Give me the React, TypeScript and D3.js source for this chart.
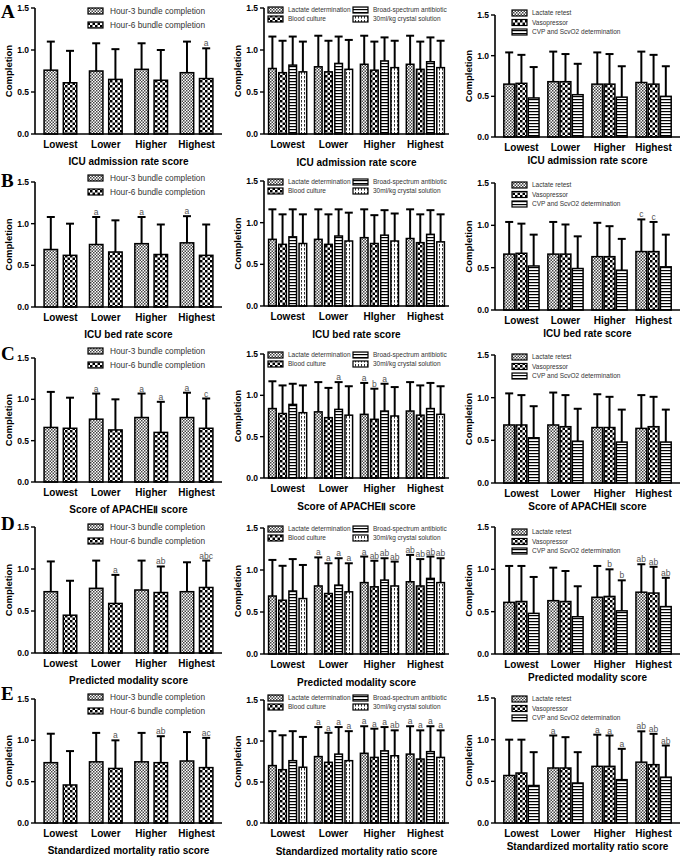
import React from "react";
import * as d3 from "d3";

const categories = ["Lowest", "Lower", "Higher", "Highest"];
const bedRateMidCategories = ["Lowest", "Lower", "HIgher", "Highest"];
const yTicks = [0, 0.5, 1.0, 1.5];
const bundleSeries = ["Hour-3 bundle completion", "Hour-6 bundle completion"];
const hour3Series = ["Lactate determination", "Blood culture", "Broad-spectrum antibiotic", "30ml/kg crystal solution"];
const hour6Series = ["Lactate retest", "Vasopressor", "CVP and ScvO2  determination"];
const rowLetters = ["A", "B", "C", "D", "E"];
const rowTitles = [
  "ICU admission rate score",
  "ICU bed rate score",
  "Score of APACHE\u2161  score",
  "Predicted modality score",
  "Standardized mortality ratio score",
];

// mean and mean+SD (top of error bar), one inner array per series
const admBundleMean = [[0.76, 0.75, 0.77, 0.73], [0.61, 0.65, 0.64, 0.66]];
const admBundleUpper = [[1.1, 1.08, 1.08, 1.1], [0.99, 1.01, 1.0, 1.02]];
const admBundleSig = [["", "", "", ""], ["", "", "", "a"]];
const admH3Mean = [[0.78, 0.8, 0.83, 0.83], [0.73, 0.74, 0.76, 0.77], [0.82, 0.84, 0.87, 0.86], [0.74, 0.77, 0.79, 0.79]];
const admH3Upper = [[1.16, 1.17, 1.17, 1.17], [1.11, 1.11, 1.1, 1.1], [1.16, 1.16, 1.15, 1.15], [1.1, 1.12, 1.11, 1.11]];
const admH6Mean = [[0.65, 0.68, 0.65, 0.67], [0.66, 0.68, 0.65, 0.65], [0.48, 0.52, 0.49, 0.5]];
const admH6Upper = [[1.04, 1.05, 1.04, 1.05], [1.01, 1.02, 1.02, 1.01], [0.86, 0.9, 0.87, 0.87]];

const bedBundleMean = [[0.69, 0.75, 0.76, 0.77], [0.62, 0.66, 0.63, 0.62]];
const bedBundleUpper = [[1.08, 1.08, 1.08, 1.09], [1.0, 1.04, 0.99, 0.99]];
const bedBundleSig = [["", "a", "a", "a"], ["", "", "", ""]];
const bedH3Mean = [[0.8, 0.8, 0.82, 0.81], [0.74, 0.74, 0.75, 0.76], [0.83, 0.84, 0.85, 0.86], [0.75, 0.78, 0.78, 0.77]];
const bedH3Upper = [[1.16, 1.16, 1.16, 1.16], [1.1, 1.1, 1.09, 1.1], [1.16, 1.16, 1.15, 1.15], [1.1, 1.12, 1.11, 1.1]];
const bedH6Mean = [[0.66, 0.66, 0.63, 0.69], [0.67, 0.66, 0.63, 0.69], [0.52, 0.49, 0.47, 0.51]];
const bedH6Upper = [[1.04, 1.04, 1.03, 1.07], [1.02, 1.01, 0.99, 1.04], [0.89, 0.87, 0.84, 0.89]];
const bedH6Sig = [["", "", "", "c"], ["", "", "", "c"], ["", "", "", ""]];

const apacheBundleMean = [[0.66, 0.76, 0.78, 0.78], [0.65, 0.63, 0.6, 0.65]];
const apacheBundleUpper = [[1.09, 1.07, 1.07, 1.08], [1.02, 1.0, 0.97, 1.01]];
const apacheBundleSig = [["", "a", "a", "a"], ["", "", "a", "c"]];
const apacheH3Mean = [[0.84, 0.8, 0.77, 0.81], [0.78, 0.73, 0.71, 0.76], [0.89, 0.83, 0.81, 0.84], [0.79, 0.76, 0.75, 0.77]];
const apacheH3Upper = [[1.17, 1.16, 1.15, 1.16], [1.12, 1.09, 1.08, 1.12], [1.14, 1.16, 1.14, 1.15], [1.12, 1.11, 1.1, 1.11]];
const apacheH3Sig = [["", "", "a", ""], ["", "", "b", ""], ["", "a", "a", ""], ["", "", "", ""]];
const apacheH6Mean = [[0.68, 0.68, 0.65, 0.64], [0.68, 0.66, 0.65, 0.66], [0.53, 0.49, 0.48, 0.48]];
const apacheH6Upper = [[1.05, 1.06, 1.04, 1.03], [1.03, 1.03, 1.01, 1.01], [0.9, 0.87, 0.86, 0.86]];

const predBundleMean = [[0.73, 0.77, 0.75, 0.73], [0.45, 0.59, 0.72, 0.78]];
const predBundleUpper = [[1.09, 1.1, 1.1, 1.08], [0.86, 0.93, 1.03, 1.1]];
const predBundleSig = [["", "", "", ""], ["", "a", "ab", "abc"]];
const predH3Mean = [[0.69, 0.81, 0.85, 0.86], [0.64, 0.72, 0.8, 0.81], [0.75, 0.82, 0.88, 0.9], [0.66, 0.74, 0.81, 0.85]];
const predH3Upper = [[1.12, 1.15, 1.16, 1.18], [1.05, 1.08, 1.11, 1.13], [1.13, 1.14, 1.14, 1.16], [1.06, 1.08, 1.1, 1.14]];
const predH3Sig = [["", "a", "a", "ab"], ["", "a", "ab", "ab"], ["", "a", "ab", "ab"], ["", "a", "ab", "ab"]];
const predH6Mean = [[0.61, 0.63, 0.67, 0.73], [0.62, 0.62, 0.68, 0.72], [0.48, 0.44, 0.51, 0.56]];
const predH6Upper = [[1.04, 1.02, 1.04, 1.06], [1.04, 0.98, 1.0, 1.03], [0.91, 0.8, 0.87, 0.9]];
const predH6Sig = [["", "", "", "ab"], ["", "", "b", "ab"], ["", "", "b", "ab"]];

const smrBundleMean = [[0.73, 0.74, 0.74, 0.75], [0.46, 0.66, 0.73, 0.67]];
const smrBundleUpper = [[1.08, 1.09, 1.09, 1.1], [0.87, 1.0, 1.05, 1.03]];
const smrBundleSig = [["", "", "", ""], ["", "a", "ab", "ac"]];
const smrH3Mean = [[0.7, 0.81, 0.85, 0.84], [0.65, 0.74, 0.8, 0.78], [0.76, 0.84, 0.88, 0.87], [0.68, 0.76, 0.82, 0.8]];
const smrH3Upper = [[1.12, 1.17, 1.18, 1.18], [1.07, 1.1, 1.15, 1.13], [1.12, 1.17, 1.17, 1.18], [1.05, 1.12, 1.13, 1.13]];
const smrH3Sig = [["", "a", "a", "a"], ["", "a", "a", "a"], ["", "a", "a", "a"], ["", "a", "ab", "a"]];
const smrH6Mean = [[0.57, 0.66, 0.68, 0.73], [0.6, 0.66, 0.68, 0.7], [0.45, 0.48, 0.52, 0.55]];
const smrH6Upper = [[1.0, 1.05, 1.06, 1.1], [1.0, 1.03, 1.05, 1.07], [0.85, 0.85, 0.89, 0.93]];
const smrH6Sig = [["", "a", "a", "ab"], ["", "", "a", "ab"], ["", "", "a", "ab"]];

const panels = [
  { row: 0, col: 0, cats: categories, series: bundleSeries, mean: admBundleMean, upper: admBundleUpper, sig: admBundleSig },
  { row: 0, col: 1, cats: categories, series: hour3Series, mean: admH3Mean, upper: admH3Upper },
  { row: 0, col: 2, cats: categories, series: hour6Series, mean: admH6Mean, upper: admH6Upper },
  { row: 1, col: 0, cats: categories, series: bundleSeries, mean: bedBundleMean, upper: bedBundleUpper, sig: bedBundleSig },
  { row: 1, col: 1, cats: bedRateMidCategories, series: hour3Series, mean: bedH3Mean, upper: bedH3Upper },
  { row: 1, col: 2, cats: categories, series: hour6Series, mean: bedH6Mean, upper: bedH6Upper, sig: bedH6Sig },
  { row: 2, col: 0, cats: categories, series: bundleSeries, mean: apacheBundleMean, upper: apacheBundleUpper, sig: apacheBundleSig },
  { row: 2, col: 1, cats: categories, series: hour3Series, mean: apacheH3Mean, upper: apacheH3Upper, sig: apacheH3Sig },
  { row: 2, col: 2, cats: categories, series: hour6Series, mean: apacheH6Mean, upper: apacheH6Upper },
  { row: 3, col: 0, cats: categories, series: bundleSeries, mean: predBundleMean, upper: predBundleUpper, sig: predBundleSig },
  { row: 3, col: 1, cats: categories, series: hour3Series, mean: predH3Mean, upper: predH3Upper, sig: predH3Sig },
  { row: 3, col: 2, cats: categories, series: hour6Series, mean: predH6Mean, upper: predH6Upper, sig: predH6Sig },
  { row: 4, col: 0, cats: categories, series: bundleSeries, mean: smrBundleMean, upper: smrBundleUpper, sig: smrBundleSig },
  { row: 4, col: 1, cats: categories, series: hour3Series, mean: smrH3Mean, upper: smrH3Upper, sig: smrH3Sig },
  { row: 4, col: 2, cats: categories, series: hour6Series, mean: smrH6Mean, upper: smrH6Upper, sig: smrH6Sig },
];

// layout
const W = 685;
const H = 858;
const colX = [[35, 222], [264, 449], [495, 680]];
const rowY = [
  [[8, 134], [8, 134], [15, 137]],
  [[182, 307], [181, 306], [183, 310]],
  [[358, 482], [354, 478], [355, 483]],
  [[527, 653], [528, 654], [527, 654]],
  [[699, 823], [700, 823], [698, 823]],
];
const letterY = [18, 187, 360, 530, 700];
const colCfg = [
  { pi: 0.28, po: 0.2, spi: 0.3, titleDy: 31, legendY: [11, 178, 351, 527, 697] },
  { pi: 0.17, po: 0.1, spi: 0.25, titleDy: 32, legendY: [10, 182, 355, 529, 698] },
  { pi: 0.2, po: 0.2, spi: 0.12, titleDy: 27, legendY: [13, 185, 357, 532, 699] },
];
const patterns = ["p-fine", "p-check", "p-hstripe", "p-vstripe"];
const FONT = "Arial, 'Liberation Sans', sans-serif";

function Legend({ p, cfg }) {
  const ly = cfg.legendY[p.row];
  return (
    <g fontFamily={FONT} fill="#333">
      {p.series.map((s, i) => {
        let sx, sy, fs;
        if (p.col === 0) {
          sx = 88; sy = ly + i * 14; fs = 8.3;
        } else if (p.col === 1) {
          sx = [268, 353][Math.floor(i / 2)]; sy = ly + (i % 2) * 9; fs = 6.5;
        } else {
          sx = 512; sy = ly + i * 9.5; fs = 6.5;
        }
        return (
          <g key={s}>
            <rect x={sx} y={sy - 3} width={15} height={6} fill={`url(#${patterns[i]})`} stroke="#000" strokeWidth={1.2} />
            <text x={sx + (p.col === 0 ? 22 : 20)} y={sy + fs * 0.35} fontSize={fs}>{s}</text>
          </g>
        );
      })}
    </g>
  );
}

function Panel({ p }) {
  const [x0, x1] = colX[p.col];
  const [top, bottom] = rowY[p.row][p.col];
  const cfg = colCfg[p.col];
  const y = d3.scaleLinear().domain([0, 1.5]).range([bottom, top]);
  const x = d3.scaleBand().domain(p.cats).range([x0, x1]).paddingInner(cfg.pi).paddingOuter(cfg.po);
  const xs = d3.scaleBand().domain(d3.range(p.series.length)).range([0, x.bandwidth()]).paddingInner(cfg.spi);
  const bw = xs.bandwidth();
  return (
    <g>
      {p.series.map((s, si) =>
        p.cats.map((c, ci) => {
          const bx = x(c) + xs(si);
          const cx = bx + bw / 2;
          const m = p.mean[si][ci];
          const u = p.upper[si][ci];
          const lab = p.sig ? p.sig[si][ci] : "";
          return (
            <g key={s + c}>
              <line x1={cx} x2={cx} y1={y(m)} y2={y(u)} stroke="#000" strokeWidth={2} />
              <line x1={cx - 4} x2={cx + 4} y1={y(u)} y2={y(u)} stroke="#000" strokeWidth={2} />
              <rect x={bx} y={y(m)} width={bw} height={y(0) - y(m)} fill={`url(#${patterns[si]})`} stroke="#000" strokeWidth={1.5} />
              {lab && (
                <text x={cx} y={y(u) - 2} textAnchor="middle" fontSize={8.5} fill="#555" fontFamily={FONT}>{lab}</text>
              )}
            </g>
          );
        })
      )}
      {/* axes */}
      <line x1={x0} x2={x0} y1={y(1.5)} y2={y(0)} stroke="#000" strokeWidth={1.6} />
      <line x1={x0} x2={x1} y1={y(0)} y2={y(0)} stroke="#000" strokeWidth={1.6} />
      {yTicks.map((t) => (
        <g key={t}>
          <line x1={x0 - 4} x2={x0} y1={y(t)} y2={y(t)} stroke="#000" strokeWidth={1.4} />
          <text x={x0 - 6} y={y(t) + 3} textAnchor="end" fontSize={8.5} fontWeight="bold" fontFamily={FONT}>{t.toFixed(1)}</text>
        </g>
      ))}
      {p.cats.map((c) => (
        <text key={c} x={x(c) + x.bandwidth() / 2} y={bottom + 14} textAnchor="middle" fontSize={10} fontWeight="bold" fontFamily={FONT}>{c}</text>
      ))}
      <text x={(x0 + x1) / 2} y={bottom + cfg.titleDy} textAnchor="middle" fontSize={10} fontWeight="bold" fontFamily={FONT}>{rowTitles[p.row]}</text>
      <text transform={`translate(${x0 - 23},${(top + bottom) / 2}) rotate(-90)`} textAnchor="middle" fontSize={9.5} fontWeight="bold" fontFamily={FONT}>Completion</text>
      <Legend p={p} cfg={cfg} />
    </g>
  );
}

export default function App() {
  return (
    <>
      <style>{`body{margin:0}`}</style>
      <svg width={W} height={H} style={{ display: "block", background: "#fff" }}>
        <defs>
          <pattern id="p-fine" width={3} height={3} patternUnits="userSpaceOnUse">
            <rect width={3} height={3} fill="#fff" />
            <rect width={1.5} height={1.5} fill="#444" />
            <rect x={1.5} y={1.5} width={1.5} height={1.5} fill="#444" />
          </pattern>
          <pattern id="p-check" width={5} height={5} patternUnits="userSpaceOnUse">
            <rect width={5} height={5} fill="#fff" />
            <rect width={2.5} height={2.5} fill="#000" />
            <rect x={2.5} y={2.5} width={2.5} height={2.5} fill="#000" />
          </pattern>
          <pattern id="p-hstripe" width={3} height={3} patternUnits="userSpaceOnUse">
            <rect width={3} height={3} fill="#fff" />
            <rect y={0} width={3} height={1.2} fill="#000" />
          </pattern>
          <pattern id="p-vstripe" width={3} height={4} patternUnits="userSpaceOnUse">
            <rect width={3} height={4} fill="#fff" />
            <rect x={1} y={0} width={1} height={2.5} fill="#333" />
          </pattern>
        </defs>
        {rowLetters.map((l, i) => (
          <text key={l} x={1} y={letterY[i]} fontSize={19} fontWeight="bold" fontFamily="'Times New Roman', 'Liberation Serif', serif">{l}</text>
        ))}
        {panels.map((p) => (
          <Panel key={`${p.row}-${p.col}`} p={p} />
        ))}
      </svg>
    </>
  );
}
